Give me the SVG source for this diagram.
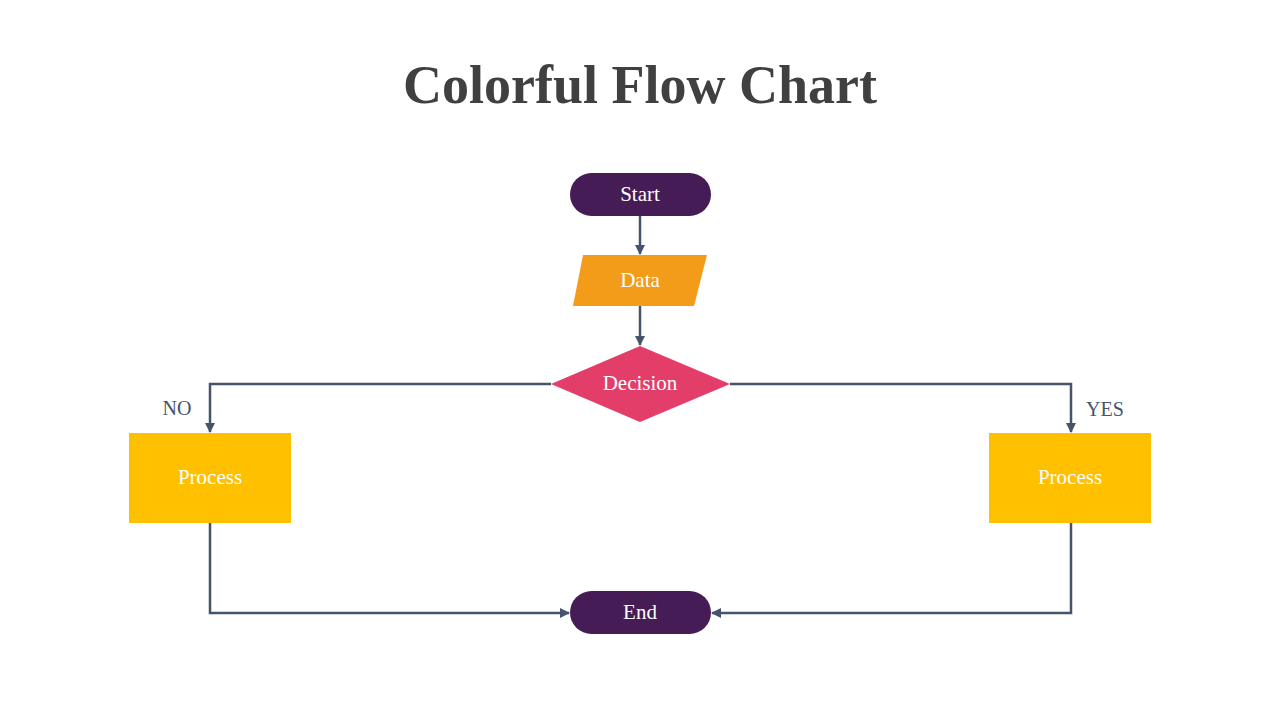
<svg xmlns="http://www.w3.org/2000/svg" width="1280" height="720" viewBox="0 0 1280 720">
<style>
.t{font-family:"Liberation Serif","DejaVu Serif",serif;fill:#fff;font-size:21px;text-anchor:middle;dominant-baseline:central}
.l{font-family:"Liberation Serif","DejaVu Serif",serif;fill:#44546A;font-size:20px;text-anchor:middle;dominant-baseline:central}
.c{fill:none;stroke:#44546A;stroke-width:2.5}
</style>
<defs><marker id="a" viewBox="0 0 10 10" refX="9" refY="5" markerWidth="4" markerHeight="4" orient="auto"><path d="M0,0L10,5L0,10z" fill="#44546A"/></marker></defs>
<rect width="1280" height="720" fill="#fff"/>
<text x="640" y="85" font-family="Liberation Serif,DejaVu Serif,serif" font-weight="bold" font-size="54" fill="#404040" text-anchor="middle" dominant-baseline="central">Colorful Flow Chart</text>
<g id="connectors">
<path class="c" d="M640,216V254" marker-end="url(#a)"/>
<path class="c" d="M640,306V345" marker-end="url(#a)"/>
<path class="c" d="M551,384H210V432" marker-end="url(#a)"/>
<path class="c" d="M730,384H1071V432" marker-end="url(#a)"/>
<path class="c" d="M210,523V613H569" marker-end="url(#a)"/>
<path class="c" d="M1071,523V613H712" marker-end="url(#a)"/>
<text class="l" x="177" y="408">NO</text>
<text class="l" x="1105" y="409">YES</text>
</g>
<g id="start"><rect x="570" y="173" width="141" height="43" rx="21.5" fill="#461C57"/><text class="t" x="640" y="194">Start</text></g>
<g id="data"><polygon points="583,255 707,255 694,306 573,306" fill="#F39C1A"/><text class="t" x="640" y="280">Data</text></g>
<g id="decision"><polygon points="640,346 730,384 640,422 551,384" fill="#E33E6A"/><text class="t" x="640" y="383">Decision</text></g>
<g id="processNo"><rect x="129" y="433" width="162" height="90" fill="#FFC000"/><text class="t" x="210" y="477">Process</text></g>
<g id="processYes"><rect x="989" y="433" width="162" height="90" fill="#FFC000"/><text class="t" x="1070" y="477">Process</text></g>
<g id="end"><rect x="570" y="591" width="141" height="43" rx="21.5" fill="#461C57"/><text class="t" x="640" y="612">End</text></g>
</svg>
